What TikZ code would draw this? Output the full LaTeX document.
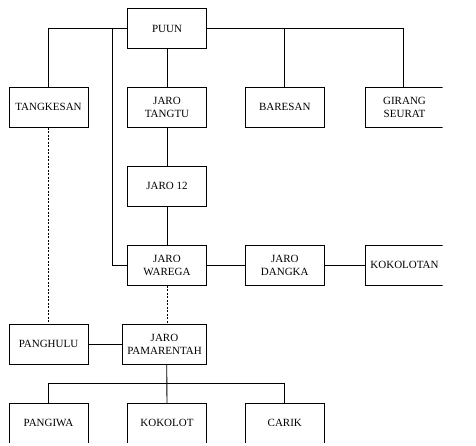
\documentclass[tikz,border=0pt]{standalone}
\usepackage{fontspec}
\setmainfont{Liberation Serif}
\begin{document}
\begin{tikzpicture}[x=1pt,y=-1pt,
  box/.style={draw,line width=0.9pt,inner sep=0pt,minimum width=79pt,minimum height=40pt,align=center,font=\fontsize{11}{13}\selectfont},
  conn/.style={line width=0.9pt},
  dconn/.style={line width=0.9pt,dash pattern=on 2pt off 1.5pt}]
\useasboundingbox (0,0) rectangle (476,446);
\clip (0,0) rectangle (442.5,442);
\node[box] (puun) at (167,28.5) {PUUN};
\node[box] (tang) at (48.5,107.3) {TANGKESAN};
\node[box] (jtangtu) at (167,107.3) {JARO\\TANGTU};
\node[box] (baresan) at (284.8,107.3) {BARESAN};
\node[box] (girang) at (404.5,107.3) {GIRANG\\SEURAT};
\node[box] (jaro12) at (167,186) {JARO 12};
\node[box] (wareg) at (167,265.3) {JARO\\WAREGA};
\node[box] (dangka) at (284.8,265.3) {JARO\\DANGKA};
\node[box] (kokolotan) at (404.5,265.3) {KOKOLOTAN};
\node[box] (panghulu) at (48.5,344) {PANGHULU};
\node[box,minimum width=84.4pt] (pamar) at (164.5,344) {JARO\\PAMARENTAH};
\node[box] (pangiwa) at (48.5,423.3) {PANGIWA};
\node[box] (kokolot) at (167,423.3) {KOKOLOT};
\node[box] (carik) at (284.8,423.3) {CARIK};
\coordinate (bx) at (112.7,28.5);
\coordinate (hb) at (166.7,383.3);
\coordinate (tr) at (403.3,28.5);
\draw[conn] (tang.north) |- (puun.west);
\draw[conn] (puun.east) -- (tr) -- (tr |- girang.north);
\draw[conn] (baresan.north) -- (baresan.north |- puun.east);
\draw[conn] (bx) |- (wareg.west);
\draw[conn] (puun.south) -- (jtangtu.north);
\draw[conn] (jtangtu.south) -- (jaro12.north);
\draw[conn] (jaro12.south) -- (wareg.north);
\draw[conn] (wareg.east) -- (dangka.west);
\draw[conn] (dangka.east) -- (kokolotan.west);
\draw[dconn] (tang.south) -- (panghulu.north);
\draw[dconn] (wareg.south) -- (wareg.south |- pamar.north);
\draw[conn] (panghulu.east) -- (pamar.west);
\draw[conn] (pamar.south -| hb) -- (kokolot.north);
\draw[conn] (pangiwa.north) |- (hb) -| (carik.north);
\end{tikzpicture}
\end{document}
